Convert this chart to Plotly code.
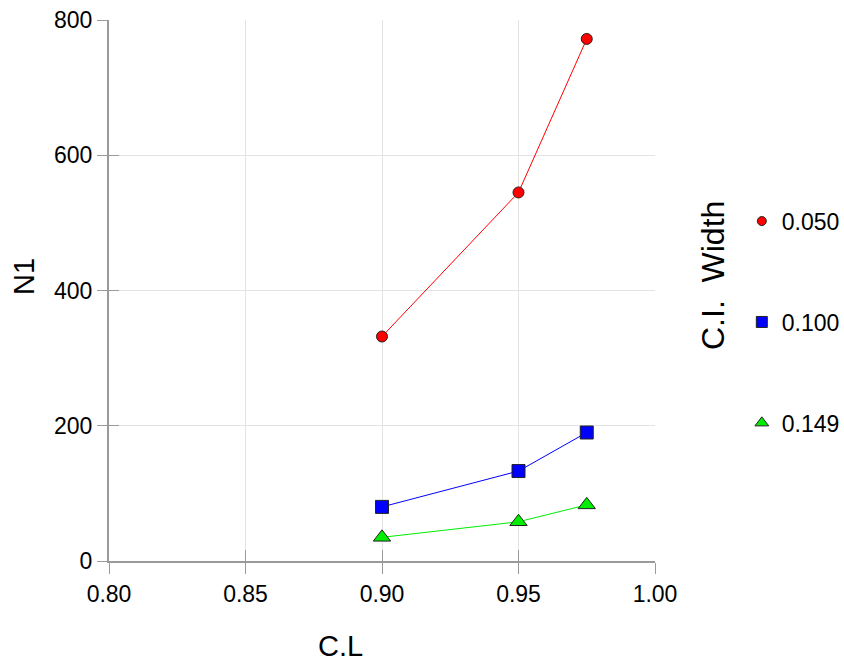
import plotly.graph_objects as go

cl = [0.90, 0.95, 0.975]
n1_050 = [332, 545, 772]
n1_100 = [80, 133, 190]
n1_149 = [35, 58, 83]
series_names = ["0.050", "0.100", "0.149"]
x_ticks = [0.80, 0.85, 0.90, 0.95, 1.00]
x_ticktext = ["0.80", "0.85", "0.90", "0.95", "1.00"]
y_ticks = [0, 200, 400, 600, 800]

FONT = "Liberation Sans, Arial, sans-serif"
AXC = "#9a9a9a"

fig = go.Figure()
styles = [
    dict(color="red", symbol="circle", size=11, lsize=9),
    dict(color="blue", symbol="square", size=13, lsize=11),
    dict(color="#00ee00", symbol="triangle-up", size=15, lsize=12),
]
for name, ys, st in zip(series_names, [n1_050, n1_100, n1_149], styles):
    fig.add_trace(go.Scatter(
        x=cl, y=ys, mode="lines+markers", name=name, showlegend=False,
        line=dict(color=st["color"], width=1),
        marker=dict(color=st["color"], symbol=st["symbol"], size=st["size"],
                    line=dict(color="#222222", width=1)),
    ))
for name, st in zip(series_names, styles):
    fig.add_trace(go.Scatter(
        x=[None], y=[None], mode="markers", name=name, legendgroup=name,
        marker=dict(color=st["color"], symbol=st["symbol"], size=st["lsize"],
                    line=dict(color="#222222", width=1)),
    ))

# dummy trace for inside ticks
fig.add_trace(go.Scatter(x=[None], y=[None], xaxis="x2", yaxis="y2",
                         showlegend=False, hoverinfo="skip"))

common_x = dict(range=[0.80, 1.00], tickvals=x_ticks)
common_y = dict(range=[0, 800], tickvals=y_ticks)

fig.update_layout(
    width=844, height=663,
    margin=dict(l=109, r=189, t=20, b=102, autoexpand=False),
    paper_bgcolor="white", plot_bgcolor="white",
    font=dict(family=FONT, color="black"),
    xaxis=dict(**common_x, ticktext=x_ticktext, ticks="outside", ticklen=11,
               tickcolor=AXC, showline=True, linecolor=AXC, linewidth=2,
               showgrid=True, gridcolor="#e3e3e3", gridwidth=1, zeroline=False,
               tickfont=dict(size=23, family=FONT)),
    yaxis=dict(**common_y, ticks="outside", ticklen=10, tickcolor=AXC,
               showline=True, linecolor=AXC, linewidth=2,
               showgrid=True, gridcolor="#e3e3e3", gridwidth=1, zeroline=False,
               tickfont=dict(size=23, family=FONT)),
    xaxis2=dict(**common_x, overlaying="x", side="bottom", ticks="inside",
                ticklen=11, tickcolor=AXC, showticklabels=False,
                showgrid=False, zeroline=False, showline=False),
    yaxis2=dict(**common_y, overlaying="y", side="left", ticks="inside",
                ticklen=10, tickcolor=AXC, showticklabels=False,
                showgrid=False, zeroline=False, showline=False),
    legend=dict(x=1.159, y=0.668, xanchor="left", yanchor="top",
                tracegroupgap=68, font=dict(size=23, family=FONT),
                bgcolor="rgba(0,0,0,0)", itemwidth=30),
    showlegend=True,
)

# axis titles (positions given in pixels, converted below)
fig.add_annotation(text="N1", textangle=-90, x=24, y=277)
fig.add_annotation(text="C.L", x=340, y=646)
fig.add_annotation(text="C.I.\u00a0\u00a0Width", textangle=-90, x=713, y=276)

L, R, T, B = 109, 189, 20, 102
pw, ph = 844 - L - R, 663 - T - B
for i, ann in enumerate(fig.layout.annotations):
    ann.update(
        x=(ann.x - L) / pw, y=(663 - B - ann.y) / ph,
        xref="paper", yref="paper", xanchor="center", yanchor="middle",
        showarrow=False,
        font=dict(size=32 if i == 2 else 29, family=FONT, color="black"),
    )

fig.write_html("out.html", config={"displayModeBar": False},
               post_script="document.body.style.margin='0';")
